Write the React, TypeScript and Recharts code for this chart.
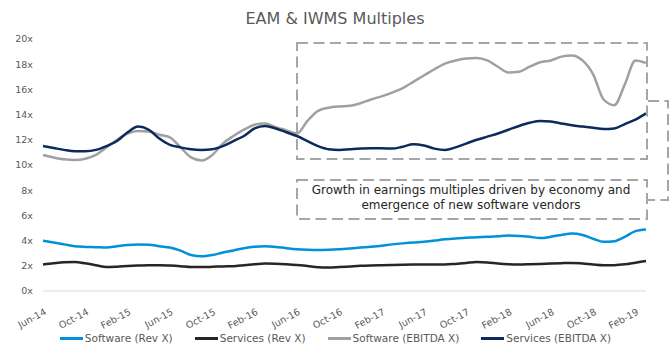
import { LineChart, Line, XAxis, YAxis } from 'recharts';

const months = [
  'Jun-14', 'Jul-14', 'Aug-14', 'Sep-14', 'Oct-14', 'Nov-14', 'Dec-14', 'Jan-15', 'Feb-15', 'Mar-15',
  'Apr-15', 'May-15', 'Jun-15', 'Jul-15', 'Aug-15', 'Sep-15', 'Oct-15', 'Nov-15', 'Dec-15', 'Jan-16',
  'Feb-16', 'Mar-16', 'Apr-16', 'May-16', 'Jun-16', 'Jul-16', 'Aug-16', 'Sep-16', 'Oct-16', 'Nov-16',
  'Dec-16', 'Jan-17', 'Feb-17', 'Mar-17', 'Apr-17', 'May-17', 'Jun-17', 'Jul-17', 'Aug-17', 'Sep-17',
  'Oct-17', 'Nov-17', 'Dec-17', 'Jan-18', 'Feb-18', 'Mar-18', 'Apr-18', 'May-18', 'Jun-18', 'Jul-18',
  'Aug-18', 'Sep-18', 'Oct-18', 'Nov-18', 'Dec-18', 'Jan-19', 'Feb-19', 'Mar-19',
];

const softwareRev = [
  3.98, 3.85, 3.7, 3.55, 3.5, 3.48, 3.45, 3.55, 3.65, 3.7,
  3.68, 3.55, 3.45, 3.2, 2.85, 2.75, 2.85, 3.05, 3.22, 3.4,
  3.52, 3.56, 3.5, 3.4, 3.32, 3.28, 3.26, 3.28, 3.32, 3.38,
  3.45, 3.52, 3.6, 3.7, 3.78, 3.85, 3.9, 4.0, 4.1, 4.17,
  4.22, 4.27, 4.3, 4.35, 4.4, 4.37, 4.3, 4.2, 4.3, 4.45,
  4.56, 4.45, 4.15, 3.9, 3.95, 4.3, 4.75, 4.88,
];

const servicesRev = [
  2.1, 2.2, 2.28, 2.3, 2.2, 2.05, 1.9, 1.93, 1.98, 2.02,
  2.05, 2.05, 2.02, 1.97, 1.9, 1.9, 1.92, 1.95, 1.97, 2.05,
  2.12, 2.18, 2.17, 2.13, 2.07, 1.98, 1.88, 1.86, 1.9, 1.95,
  2.0, 2.03, 2.05, 2.07, 2.09, 2.1, 2.1, 2.1, 2.1, 2.15,
  2.22, 2.3, 2.27, 2.18, 2.12, 2.1, 2.12, 2.15, 2.18, 2.21,
  2.23, 2.18, 2.1, 2.04, 2.05, 2.12, 2.25, 2.38,
];

const softwareEbitda = [
  10.8, 10.6, 10.45, 10.4, 10.5, 10.8, 11.4, 12.0, 12.5, 12.7,
  12.65, 12.4, 12.2, 11.4, 10.6, 10.35, 10.8, 11.7, 12.3, 12.8,
  13.2, 13.3, 13.0, 12.75, 12.5, 13.5, 14.3, 14.55, 14.65, 14.7,
  14.9, 15.2, 15.45, 15.75, 16.1, 16.6, 17.1, 17.6, 18.05, 18.3,
  18.45, 18.5, 18.3, 17.8, 17.35, 17.4, 17.8, 18.15, 18.3, 18.6,
  18.7, 18.3, 17.2, 15.2, 14.75, 16.4, 18.3, 18.1,
];

const servicesEbitda = [
  11.5, 11.35, 11.2, 11.1, 11.1, 11.2, 11.5, 11.9, 12.6, 13.05,
  12.8, 12.1, 11.6, 11.4, 11.25, 11.2, 11.25, 11.5, 11.9, 12.3,
  12.9, 13.1, 12.9, 12.6, 12.3, 11.9, 11.5, 11.25, 11.2, 11.25,
  11.3, 11.33, 11.33, 11.3, 11.45, 11.65, 11.55, 11.3, 11.2, 11.4,
  11.7, 12.0, 12.25, 12.5, 12.8, 13.1, 13.35, 13.5, 13.45, 13.3,
  13.15, 13.05, 12.95, 12.85, 12.9, 13.25, 13.6, 14.1,
];

const yTicks = [0, 2, 4, 6, 8, 10, 12, 14, 16, 18, 20];

const seriesInfo = [
  { key: 'softwareRev', name: 'Software (Rev X)', color: '#0091da' },
  { key: 'servicesRev', name: 'Services (Rev X)', color: '#262626' },
  { key: 'softwareEbitda', name: 'Software (EBITDA X)', color: '#a0a0a0' },
  { key: 'servicesEbitda', name: 'Services (EBITDA X)', color: '#0c2a5b' },
];

const chartData = months.map((m, i) => ({
  month: m,
  softwareRev: softwareRev[i],
  servicesRev: servicesRev[i],
  softwareEbitda: softwareEbitda[i],
  servicesEbitda: servicesEbitda[i],
}));

const FONT = '"DejaVu Sans", Verdana, sans-serif';

const MonthTick = ({ x, y, payload }: any) => {
  const tx = x + 4;
  const ty = y + 15;
  return (
    <text
      x={tx}
      y={ty}
      transform={`rotate(-28, ${tx}, ${ty})`}
      textAnchor="end"
      fill="#595959"
      fontSize={9.5}
      fontFamily={FONT}
    >
      {payload.value}
    </text>
  );
};

const dash = { stroke: '#a6a6a6', strokeWidth: 2, strokeDasharray: '11 5.5', fill: 'none' };

export default function App() {
  return (
    <div style={{ position: 'absolute', left: 0, top: 0, width: 671, height: 355, background: '#fff', fontFamily: FONT }}>
      <LineChart width={671} height={355} data={chartData} margin={{ top: 39, right: 25, left: 0, bottom: 24 }}>
        <XAxis
          dataKey="month"
          interval={3}
          tickLine={false}
          axisLine={{ stroke: '#d9d9d9' }}
          height={40}
          tick={<MonthTick />}
        />
        <YAxis
          width={43}
          domain={[0, 20]}
          ticks={yTicks}
          tickFormatter={(v: number) => `${v}x`}
          axisLine={false}
          tickLine={false}
          tickSize={8}
          tick={{ fill: '#595959', fontSize: 9.5, fontFamily: FONT }}
        />
        {seriesInfo.map(s => (
          <Line
            key={s.key}
            type="monotone"
            dataKey={s.key}
            name={s.name}
            stroke={s.color}
            strokeWidth={2.5}
            dot={false}
            isAnimationActive={false}
          />
        ))}
      </LineChart>

      {/* title, annotation boxes and connector */}
      <svg width={671} height={355} style={{ position: 'absolute', left: 0, top: 0, pointerEvents: 'none' }}>
        <text x={335} y={24} textAnchor="middle" fill="#595959" fontSize={16} fontFamily={FONT}>
          EAM &amp; IWMS Multiples
        </text>
        <rect x={297} y={43} width={350} height={116} {...dash} />
        <rect x={297} y={180} width={350} height={39} {...dash} />
        <polyline points="648,101 668,101 668,200 648,200" {...dash} />
        <text x={471} y={194} textAnchor="middle" fill="#262626" fontSize={12} fontFamily={FONT}>
          Growth in earnings multiples driven by economy and
        </text>
        <text x={471} y={209} textAnchor="middle" fill="#262626" fontSize={12} fontFamily={FONT}>
          emergence of new software vendors
        </text>
      </svg>

      <div
        style={{
          position: 'absolute',
          left: 0,
          top: 332,
          width: 671,
          display: 'flex',
          justifyContent: 'center',
          gap: 22,
          fontSize: 10.5,
          color: '#595959',
        }}
      >
        {seriesInfo.map(s => (
          <div key={s.key} style={{ display: 'flex', alignItems: 'center', gap: 2 }}>
            <span style={{ display: 'inline-block', width: 23, height: 3, background: s.color }} />
            <span>{s.name}</span>
          </div>
        ))}
      </div>
    </div>
  );
}
